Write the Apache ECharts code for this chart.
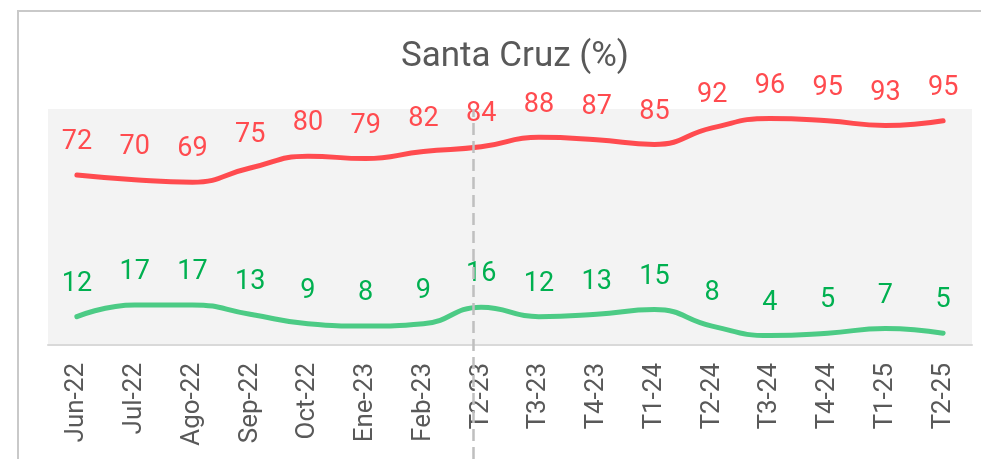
<!DOCTYPE html>
<html>
<head>
<meta charset="utf-8">
<script src="https://cdn.jsdelivr.net/npm/echarts@6/dist/echarts.min.js"></script>
<style>
  html, body { margin: 0; padding: 0; background: #fff; overflow: hidden; }
  #frame {
    position: absolute; left: 17px; top: 10px; width: 1000px; height: 500px;
    border: 2px solid #c9c9c9; box-sizing: border-box;
  }
  #main { position: absolute; left: 0; top: 0; width: 981px; height: 459px; }
</style>
</head>
<body>
<div id="frame"></div>
<div id="main"></div>
<script>
// periodos
const categories = ['Jun-22', 'Jul-22', 'Ago-22', 'Sep-22', 'Oct-22', 'Ene-23', 'Feb-23', 'T2-23',
  'T3-23', 'T4-23', 'T1-24', 'T2-24', 'T3-24', 'T4-24', 'T1-25', 'T2-25'];
const redValues = [72, 70, 69, 75, 80, 79, 82, 84, 88, 87, 85, 92, 96, 95, 93, 95];
const greenValues = [12, 17, 17, 13, 9, 8, 9, 16, 12, 13, 15, 8, 4, 5, 7, 5];
const markerPeriod = 'T2-23';

const fontFamily = 'Roboto, sans-serif';
const chart = echarts.init(document.getElementById('main'));

// la linea punteada queda un poco a la izquierda del centro de la categoria
const markerPos = categories.indexOf(markerPeriod) - 0.13;

chart.setOption({
  animation: false,
  textStyle: { fontFamily: fontFamily },
  title: {
    text: 'Santa Cruz (%)',
    left: 510,
    textAlign: 'center',
    top: 35,
    textStyle: { fontSize: 35, fontWeight: 'normal', color: '#595959', fontFamily: fontFamily }
  },
  grid: [
    { left: 48, right: 9, top: 109, bottom: 114, show: true, backgroundColor: '#f3f3f3', borderWidth: 0 },
    // grilla auxiliar solo para la linea punteada que baja hasta el borde
    { left: 48, right: 9, top: 109, bottom: 0, show: false }
  ],
  xAxis: [
    {
      gridIndex: 0,
      type: 'category',
      data: categories,
      axisLine: { lineStyle: { color: '#d9d9d9', width: 2 } },
      axisTick: { show: false },
      axisLabel: { rotate: 90, margin: 18, fontSize: 26, color: '#595959', fontFamily: fontFamily }
    },
    // eje numerico con los mismos limites que las bandas de categoria
    { gridIndex: 1, type: 'value', min: -0.5, max: categories.length - 0.5, show: false }
  ],
  yAxis: [
    { gridIndex: 0, type: 'value', min: 0, max: 100, show: false },
    { gridIndex: 1, type: 'value', min: 0, max: 100, show: false }
  ],
  series: [
    {
      name: 'rojo',
      type: 'line',
      data: redValues,
      smooth: true,
      symbol: 'circle',
      symbolSize: 0,
      itemStyle: { color: '#ff4b4f' },
      lineStyle: { color: '#ff4b4f', width: 5, cap: 'round' },
      label: { show: true, position: 'top', distance: 19, fontSize: 27, color: '#ff4b4f' }
    },
    {
      name: 'verde',
      type: 'line',
      data: greenValues,
      smooth: true,
      symbol: 'circle',
      symbolSize: 0,
      itemStyle: { color: '#4ccb85' },
      lineStyle: { color: '#4ccb85', width: 5, cap: 'round' },
      label: { show: true, position: 'top', distance: 19, fontSize: 27, color: '#00b050' }
    },
    {
      name: 'marca',
      type: 'line',
      xAxisIndex: 1,
      yAxisIndex: 1,
      data: [],
      symbol: 'none',
      z: 1,
      markLine: {
        silent: true,
        symbol: 'none',
        label: { show: false },
        lineStyle: { color: '#bfbfbf', width: 2.5, type: [12, 6] },
        data: [{ xAxis: markerPos }]
      }
    }
  ]
});
</script>
</body>
</html>
